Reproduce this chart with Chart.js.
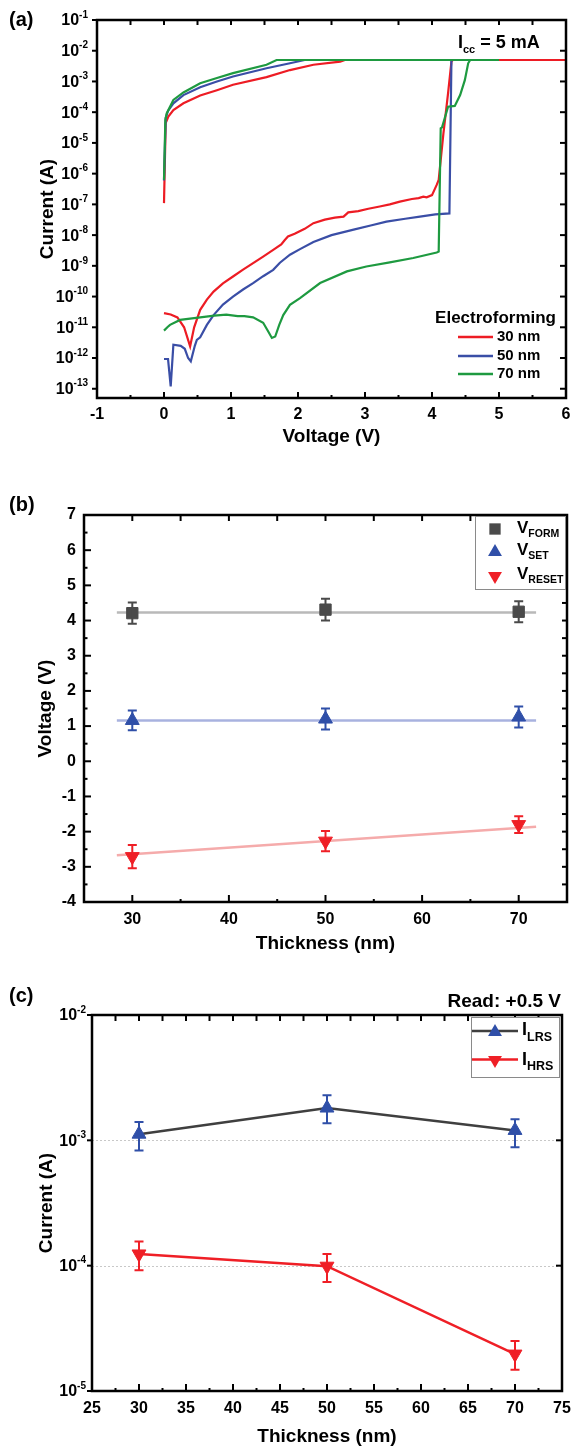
<!DOCTYPE html>
<html><head><meta charset="utf-8">
<script src="https://cdn.jsdelivr.net/npm/chart.js@4.4.1/dist/chart.umd.min.js"></script>
<style>
html,body{margin:0;padding:0;background:#fff;}
#wrap{position:relative;width:572px;height:1446px;overflow:hidden;background:#fff;}
canvas{position:absolute;left:0;}
</style></head><body>
<div id="wrap">
<canvas id="ca" width="572" height="470" style="top:0px"></canvas>
<canvas id="cb" width="572" height="480" style="top:480px"></canvas>
<canvas id="cc" width="572" height="486" style="top:960px"></canvas>
</div>
<script>
// ---------------- DATA ----------------
// Panel (a): electroforming I-V sweeps (voltage V, current A), in sweep order
const vA30 = [0,0.1,0.2,0.3,0.39,0.45,0.54,0.64,0.74,0.88,1.03,1.18,1.33,1.48,1.63,1.75,1.8,1.85,1.95,2.1,2.23,2.4,2.55,2.68,2.75,2.9,3.05,3.22,3.37,3.52,3.7,3.8,3.87,3.92,4.0,4.07,4.1,4.17,4.24,4.29,4.31,6.0,2.7,2.63,2.23,1.88,1.53,1.03,0.79,0.54,0.29,0.14,0.065,0.025,0.0];
const iA30 = [2.9e-11,2.6e-11,2.1e-11,1.0e-11,2.4e-12,1.0e-11,3.7e-11,8e-11,1.45e-10,2.7e-10,4.5e-10,7.5e-10,1.23e-9,2.0e-9,3.3e-9,5.0e-9,6.8e-9,9.0e-9,1.1e-8,1.6e-8,2.45e-8,3.2e-8,3.7e-8,4.0e-8,5.5e-8,6.0e-8,7.2e-8,8.5e-8,1.0e-7,1.23e-7,1.5e-7,1.6e-7,1.78e-7,1.7e-7,2.0e-7,4.3e-7,6.3e-7,2.0e-5,4.2e-4,4.4e-3,5e-3,5e-3,5e-3,4.4e-3,3.5e-3,2.35e-3,1.38e-3,7.8e-4,5.2e-4,3.5e-4,1.95e-4,1.17e-4,7.2e-5,4.4e-5,1.1e-7];
const vA50 = [0,0.06,0.1,0.14,0.25,0.31,0.36,0.4,0.46,0.49,0.54,0.64,0.74,0.88,1.03,1.18,1.33,1.48,1.63,1.73,1.88,2.03,2.23,2.5,2.83,3.1,3.32,3.6,3.82,4.05,4.26,4.29,5.0,2.1,1.88,1.53,1.03,0.79,0.54,0.29,0.14,0.06,0.025,0.0];
const iA50 = [9.3e-13,9.3e-13,1.2e-13,2.7e-12,2.5e-12,2.0e-12,1.0e-12,7.8e-13,2.5e-12,3.9e-12,4.7e-12,1.2e-11,2.5e-11,5.5e-11,1.0e-10,1.7e-10,2.75e-10,4.6e-10,7.4e-10,1.26e-9,2.3e-9,3.5e-9,6e-9,1.0e-8,1.5e-8,2.1e-8,2.75e-8,3.4e-8,4.0e-8,4.7e-8,5.1e-8,5e-3,5e-3,5e-3,3.9e-3,2.7e-3,1.45e-3,1.0e-3,6.5e-4,3.6e-4,1.95e-4,1.1e-4,6.5e-5,6e-7];
const vA70 = [0,0.05,0.09,0.24,0.54,0.75,0.93,1.1,1.2,1.33,1.48,1.56,1.61,1.66,1.72,1.78,1.88,2.03,2.33,2.73,3.02,3.37,3.72,4.07,4.10,4.13,4.15,4.24,4.34,4.42,4.49,4.54,4.57,5.0,1.68,1.53,1.03,0.79,0.54,0.29,0.14,0.04,0.02,0.0];
const iA70 = [7.8e-12,1.0e-11,1.2e-11,1.74e-11,2.1e-11,2.4e-11,2.6e-11,2.3e-11,2.3e-11,2.1e-11,1.4e-11,7e-12,4.5e-12,5.0e-12,1.2e-11,2.5e-11,5.4e-11,8.9e-11,2.75e-10,6.6e-10,9.5e-10,1.3e-9,1.8e-9,2.7e-9,2.9e-9,3.0e-5,3.2e-5,1.5e-4,1.6e-4,3.6e-4,1.1e-3,3.9e-3,5e-3,5e-3,5e-3,3.5e-3,1.86e-3,1.3e-3,8.7e-4,4.4e-4,2.5e-4,9.1e-5,5.5e-5,6.3e-7];
const seriesLabelsA = ['30 nm','50 nm','70 nm'];
const decadesA = [1e-13,1e-12,1e-11,1e-10,1e-9,1e-8,1e-7,1e-6,1e-5,1e-4,1e-3,1e-2,1e-1];
const xTicksA = [-1,0,1,2,3,4,5,6];

// Panel (b): switching voltages vs thickness
const thicknessB = [30,50,70];
const vForm = [4.21,4.31,4.25];
const vFormErr = [0.30,0.31,0.30];
const vSet = [1.16,1.20,1.26];
const vSetErr = [0.28,0.30,0.30];
const vReset = [-2.71,-2.27,-1.80];
const vResetErr = [0.33,0.29,0.24];
const fitXB = [28.4,71.8];
const fitForm = [4.23,4.23];
const fitSet = [1.16,1.16];
const fitReset = [-2.67,-1.86];
const xTicksB = [30,40,50,60,70];
const yTicksB = [-4,-3,-2,-1,0,1,2,3,4,5,6,7];

// Panel (c): read currents at +0.5 V
const thicknessC = [30,50,70];
const iLRS = [1.12e-3,1.81e-3,1.2e-3];
const iLRSlow = [8.3e-4,1.37e-3,8.8e-4];
const iLRShigh = [1.4e-3,2.29e-3,1.47e-3];
const iHRS = [1.24e-4,9.9e-5,1.97e-5];
const iHRSlow = [9.2e-5,7.4e-5,1.48e-5];
const iHRShigh = [1.56e-4,1.24e-4,2.51e-5];
const decadesC = [1e-5,1e-4,1e-3,1e-2];

// ---------------- STYLE / HELPERS ----------------
const FF = "'Liberation Sans', Arial, Helvetica, sans-serif";
Chart.defaults.font.family = FF;
Chart.defaults.color = '#000';
const RED='#ed1c24', BLUE='#3a4ea6', GREEN='#1e9a40';
const MGRAY='#4a4a4a', MBLUE='#2f4fa8', MRED='#ef1f26';
const LINEGRAY='#3f3f3f';
const TICKFONT = {size:16, weight:'bold', family:FF};
const TITLEFONT = {size:19, weight:'bold', family:FF, lineHeight:1};

function pts(xs, ys){ return xs.map((x,i)=>({x:x, y:ys[i]})); }
function range(a,b,s){ const r=[]; for(let v=a; v<=b+1e-9; v+=s) r.push(Math.round(v*1000)/1000); return r; }
function fitW(w){ return s=>{ s.width=w; s.paddingTop=0; s.paddingBottom=0; s.paddingLeft=0; s.paddingRight=0; }; }
function fitH(h){ return s=>{ s.height=h; s.paddingTop=0; s.paddingBottom=0; s.paddingLeft=0; s.paddingRight=0; }; }

function txt(ctx, s, x, y, size, align, base){
  ctx.font = 'bold '+size+'px '+FF; ctx.textAlign = align||'left'; ctx.textBaseline = base||'middle';
  ctx.fillStyle = '#000'; ctx.fillText(s, x, y); return ctx.measureText(s).width;
}
function subText(ctx, main, sub, x, y, ms, ss, dy){
  const w = txt(ctx, main, x, y, ms); const w2 = txt(ctx, sub, x+w, y+dy, ss); return w+w2;
}
function marker(ctx, style, x, y, r, color){
  ctx.save(); ctx.fillStyle = color; ctx.beginPath();
  if (style==='rect'){ const s=r*Math.SQRT1_2; ctx.rect(x-s,y-s,2*s,2*s); }
  else if (style==='up'){ ctx.moveTo(x,y-r); ctx.lineTo(x+r*0.866,y+r/2); ctx.lineTo(x-r*0.866,y+r/2); ctx.closePath(); }
  else { ctx.moveTo(x,y+r); ctx.lineTo(x+r*0.866,y-r/2); ctx.lineTo(x-r*0.866,y-r/2); ctx.closePath(); }
  ctx.fill(); ctx.restore();
}
function frame(chart){
  const ctx=chart.ctx, ca=chart.chartArea;
  ctx.save(); ctx.lineWidth=2.5; ctx.strokeStyle='#000';
  ctx.strokeRect(ca.left, ca.top, ca.right-ca.left, ca.bottom-ca.top); ctx.restore();
}
function drawTicks(chart, specs){
  const ctx=chart.ctx, ca=chart.chartArea;
  ctx.save(); ctx.strokeStyle='#000'; ctx.lineWidth=2;
  specs.forEach(s=>{
    const sc = chart.scales[s.axis];
    s.values.forEach(v=>{
      const p = sc.getPixelForValue(v);
      const d = s.dir==='in' ? 1 : -1;
      ctx.beginPath();
      if (s.side==='bottom'){ ctx.moveTo(p, ca.bottom); ctx.lineTo(p, ca.bottom - d*s.len); }
      else if (s.side==='top'){ ctx.moveTo(p, ca.top); ctx.lineTo(p, ca.top + d*s.len); }
      else if (s.side==='left'){ ctx.moveTo(ca.left, p); ctx.lineTo(ca.left + d*s.len, p); }
      else { ctx.moveTo(ca.right, p); ctx.lineTo(ca.right - d*s.len, p); }
      ctx.stroke();
    });
  });
  ctx.restore();
}
function powLabels(chart, axis, values, rightX){
  const ctx=chart.ctx, sc=chart.scales[axis];
  values.forEach(v=>{
    const e = String(Math.round(Math.log10(v)));
    const y = sc.getPixelForValue(v);
    ctx.font='bold 16px '+FF; const w1=ctx.measureText('10').width;
    ctx.font='bold 10px '+FF; const w2=ctx.measureText(e).width;
    const x0 = rightX - w1 - w2;
    txt(ctx, '10', x0, y+1, 16); txt(ctx, e, x0+w1, y-5, 10);
  });
}
function errBars(chart){
  const ctx=chart.ctx, xs=chart.scales.x, ys=chart.scales.y;
  chart.data.datasets.forEach(ds=>{
    if(!ds.errLow) return;
    ctx.save(); ctx.strokeStyle=ds.errColor||ds.borderColor; ctx.lineWidth=2;
    ds.data.forEach((p,j)=>{
      const x=xs.getPixelForValue(p.x), y1=ys.getPixelForValue(ds.errLow[j]), y2=ys.getPixelForValue(ds.errHigh[j]);
      ctx.beginPath(); ctx.moveTo(x,y1); ctx.lineTo(x,y2);
      ctx.moveTo(x-4.5,y1); ctx.lineTo(x+4.5,y1); ctx.moveTo(x-4.5,y2); ctx.lineTo(x+4.5,y2); ctx.stroke();
    });
    ctx.restore();
  });
}
const common = { responsive:false, animation:false, events:[], plugins:{legend:{display:false}, tooltip:{enabled:false}} };

// ---------------- PANEL (a) ----------------
const colorsA = [RED, BLUE, GREEN];
new Chart(document.getElementById('ca'), {
  type:'scatter',
  data:{ datasets:[
    {label:seriesLabelsA[0], data:pts(vA30,iA30), showLine:true, borderColor:RED, borderWidth:2.2, pointRadius:0, order:2},
    {label:seriesLabelsA[1], data:pts(vA50,iA50), showLine:true, borderColor:BLUE, borderWidth:2.2, pointRadius:0, order:1},
    {label:seriesLabelsA[2], data:pts(vA70,iA70), showLine:true, borderColor:GREEN, borderWidth:2.2, pointRadius:0, order:0}
  ]},
  options:Object.assign({}, common, {
    layout:{autoPadding:false, padding:{top:20,right:6,left:0,bottom:0}},
    scales:{
      x:{type:'linear', min:-1, max:6, afterBuildTicks:s=>{ s.ticks = xTicksA.map(v=>({value:v})); },
         ticks:{font:TICKFONT, color:'#000', padding:7, maxRotation:0},
         grid:{display:false, drawTicks:false}, border:{display:false},
         title:{display:true, text:'Voltage (V)', font:TITLEFONT, color:'#000', padding:{top:0,bottom:24}},
         afterFit:fitH(72)},
      y:{type:'logarithmic', min:5e-14, max:1e-1, ticks:{display:false},
         grid:{display:false, drawTicks:false}, border:{display:false},
         title:{display:true, text:'Current (A)', font:TITLEFONT, color:'#000', padding:{top:38,bottom:0}},
         afterFit:fitW(97)}
    }
  }),
  plugins:[{
    id:'decoA',
    afterDraw(chart){
      const ctx=chart.ctx;
      frame(chart);
      drawTicks(chart, [
        {axis:'x', side:'bottom', values:xTicksA, len:6, dir:'in'},
        {axis:'x', side:'bottom', values:range(-0.5,5.5,1), len:3, dir:'in'},
        {axis:'x', side:'top', values:range(-0.5,5.5,0.5), len:5, dir:'in'},
        {axis:'y', side:'left', values:decadesA, len:5, dir:'out'},
        {axis:'y', side:'right', values:decadesA.slice(0,12), len:6, dir:'in'}
      ]);
      powLabels(chart, 'y', decadesA, 88);
      txt(ctx, '(a)', 9, 20, 20);
      // compliance annotation
      let x = 458;
      x += txt(ctx, 'I', x, 43, 18);
      x += txt(ctx, 'cc', x, 50, 11);
      txt(ctx, ' = 5 mA', x, 43, 18);
      // legend
      txt(ctx, 'Electroforming', 556, 318, 17, 'right');
      const ly = [337,356,374];
      seriesLabelsA.forEach((lab,i)=>{
        ctx.save(); ctx.strokeStyle=colorsA[i]; ctx.lineWidth=2.5;
        ctx.beginPath(); ctx.moveTo(458,ly[i]); ctx.lineTo(493,ly[i]); ctx.stroke(); ctx.restore();
        txt(ctx, lab, 497, ly[i], 15);
      });
    }
  }]
});

// ---------------- PANEL (b) ----------------
function errDs(label, vals, errs, style, rot, color){
  return {label:label, data:pts(thicknessB, vals), showLine:false, pointStyle:style, rotation:rot,
    pointRadius:8, backgroundColor:color, borderColor:color, borderWidth:1, order:0,
    errLow: vals.map((v,i)=>v-errs[i]), errHigh: vals.map((v,i)=>v+errs[i])};
}
new Chart(document.getElementById('cb'), {
  type:'scatter',
  data:{ datasets:[
    {label:'fitForm', data:pts(fitXB,fitForm), showLine:true, borderColor:'#b9b9b9', borderWidth:2.5, pointRadius:0, order:1},
    {label:'fitSet', data:pts(fitXB,fitSet), showLine:true, borderColor:'#a8b2df', borderWidth:2.5, pointRadius:0, order:1},
    {label:'fitReset', data:pts(fitXB,fitReset), showLine:true, borderColor:'#f5abab', borderWidth:2.5, pointRadius:0, order:1},
    errDs('V_FORM', vForm, vFormErr, 'rect', 0, MGRAY),
    errDs('V_SET', vSet, vSetErr, 'triangle', 0, MBLUE),
    errDs('V_RESET', vReset, vResetErr, 'triangle', 180, MRED)
  ]},
  options:Object.assign({}, common, {
    layout:{autoPadding:false, padding:{top:35,right:5,left:0,bottom:0}},
    scales:{
      x:{type:'linear', min:25, max:75, afterBuildTicks:s=>{ s.ticks = xTicksB.map(v=>({value:v})); },
         ticks:{font:TICKFONT, color:'#000', padding:8, maxRotation:0},
         grid:{display:false, drawTicks:false}, border:{display:false},
         title:{display:true, text:'Thickness (nm)', font:TITLEFONT, color:'#000', padding:{top:0,bottom:7}},
         afterFit:fitH(58)},
      y:{type:'linear', min:-4, max:7, afterBuildTicks:s=>{ s.ticks = yTicksB.map(v=>({value:v})); },
         ticks:{font:TICKFONT, color:'#000', padding:8},
         grid:{display:false, drawTicks:false}, border:{display:false},
         title:{display:true, text:'Voltage (V)', font:TITLEFONT, color:'#000', padding:{top:36,bottom:0}},
         afterFit:fitW(84)}
    }
  }),
  plugins:[{
    id:'decoB',
    afterDatasetsDraw(chart){ errBars(chart); },
    afterDraw(chart){
      const ctx=chart.ctx;
      frame(chart);
      drawTicks(chart, [
        {axis:'x', side:'bottom', values:xTicksB, len:7, dir:'in'},
        {axis:'x', side:'bottom', values:[35,45,55,65], len:3, dir:'in'},
        {axis:'x', side:'top', values:range(30,70,5), len:6, dir:'in'},
        {axis:'y', side:'left', values:yTicksB, len:7, dir:'in'},
        {axis:'y', side:'left', values:range(-3.5,6.5,1), len:3.5, dir:'in'},
        {axis:'y', side:'right', values:range(-3.5,6.5,0.5), len:5, dir:'in'}
      ]);
      txt(ctx, '(b)', 9, 25, 20);
      // legend box
      ctx.save(); ctx.fillStyle='#fff'; ctx.fillRect(475.5, 36.5, 90, 73);
      ctx.strokeStyle='#8a8a8a'; ctx.lineWidth=1;
      ctx.strokeRect(475.5, 36.5, 90, 73); ctx.restore();
      marker(ctx,'rect',495,49,8,MGRAY);
      subText(ctx,'V','FORM',517,48,17,10.5,6);
      marker(ctx,'up',495,72,8,MBLUE);
      subText(ctx,'V','SET',517,70,17,10.5,6);
      marker(ctx,'down',495,96,8,MRED);
      subText(ctx,'V','RESET',517,94,17,10.5,6);
    }
  }]
});

// ---------------- PANEL (c) ----------------
new Chart(document.getElementById('cc'), {
  type:'scatter',
  data:{ datasets:[
    {label:'I_LRS', data:pts(thicknessC,iLRS), showLine:true, borderColor:LINEGRAY, borderWidth:2.5,
     pointStyle:'triangle', pointRadius:8, pointBackgroundColor:MBLUE, pointBorderColor:MBLUE, pointBorderWidth:1,
     errLow:iLRSlow, errHigh:iLRShigh, errColor:MBLUE},
    {label:'I_HRS', data:pts(thicknessC,iHRS), showLine:true, borderColor:MRED, borderWidth:2.5,
     pointStyle:'triangle', rotation:180, pointRadius:8, pointBackgroundColor:MRED, pointBorderColor:MRED, pointBorderWidth:1,
     errLow:iHRSlow, errHigh:iHRShigh, errColor:MRED}
  ]},
  options:Object.assign({}, common, {
    layout:{autoPadding:false, padding:{top:55,right:10,left:0,bottom:0}},
    scales:{
      x:{type:'linear', min:25, max:75, ticks:{stepSize:5, font:TICKFONT, color:'#000', padding:8, maxRotation:0},
         grid:{display:false, drawTicks:false}, border:{display:false},
         title:{display:true, text:'Thickness (nm)', font:TITLEFONT, color:'#000', padding:{top:0,bottom:0}},
         afterFit:fitH(55)},
      y:{type:'logarithmic', min:1e-5, max:1e-2, ticks:{display:false},
         grid:{display:false, drawTicks:false}, border:{display:false},
         title:{display:true, text:'Current (A)', font:TITLEFONT, color:'#000', padding:{top:37,bottom:0}},
         afterFit:fitW(92)}
    }
  }),
  plugins:[{
    id:'decoC',
    beforeDatasetsDraw(chart){
      const ctx=chart.ctx, ca=chart.chartArea, ys=chart.scales.y;
      ctx.save(); ctx.strokeStyle='#c8c8c8'; ctx.lineWidth=1; ctx.setLineDash([2,2]);
      [1e-4,1e-3].forEach(v=>{ const y=Math.round(ys.getPixelForValue(v))+0.5; ctx.beginPath(); ctx.moveTo(ca.left,y); ctx.lineTo(ca.right,y); ctx.stroke(); });
      ctx.restore();
    },
    afterDatasetsDraw(chart){ errBars(chart); },
    afterDraw(chart){
      const ctx=chart.ctx;
      frame(chart);
      drawTicks(chart, [
        {axis:'x', side:'bottom', values:range(25,75,5), len:7, dir:'in'},
        {axis:'x', side:'bottom', values:range(27.5,72.5,5), len:3, dir:'in'},
        {axis:'x', side:'top', values:range(27.5,72.5,2.5), len:6, dir:'in'},
        {axis:'y', side:'left', values:decadesC, len:5, dir:'out'},
        {axis:'y', side:'right', values:decadesC, len:6, dir:'in'}
      ]);
      powLabels(chart, 'y', decadesC, 86);
      txt(ctx, '(c)', 9, 36, 20);
      txt(ctx, 'Read: +0.5 V', 561, 42, 19, 'right');
      // legend
      ctx.save(); ctx.fillStyle='#fff'; ctx.fillRect(471.5, 57.5, 88, 60);
      ctx.strokeStyle='#8a8a8a'; ctx.lineWidth=1; ctx.strokeRect(471.5, 57.5, 88, 60); ctx.restore();
      ctx.save(); ctx.lineWidth=2.5;
      ctx.strokeStyle=LINEGRAY; ctx.beginPath(); ctx.moveTo(472,71); ctx.lineTo(518,71); ctx.stroke();
      ctx.strokeStyle=MRED; ctx.beginPath(); ctx.moveTo(472,99.5); ctx.lineTo(518,99.5); ctx.stroke();
      ctx.restore();
      marker(ctx,'up',495,72,8,MBLUE);
      marker(ctx,'down',495,100,8,MRED);
      subText(ctx,'I','LRS',522,70.5,18,12.5,7);
      subText(ctx,'I','HRS',522,100,18,12.5,7);
    }
  }]
});
</script>
</body></html>
